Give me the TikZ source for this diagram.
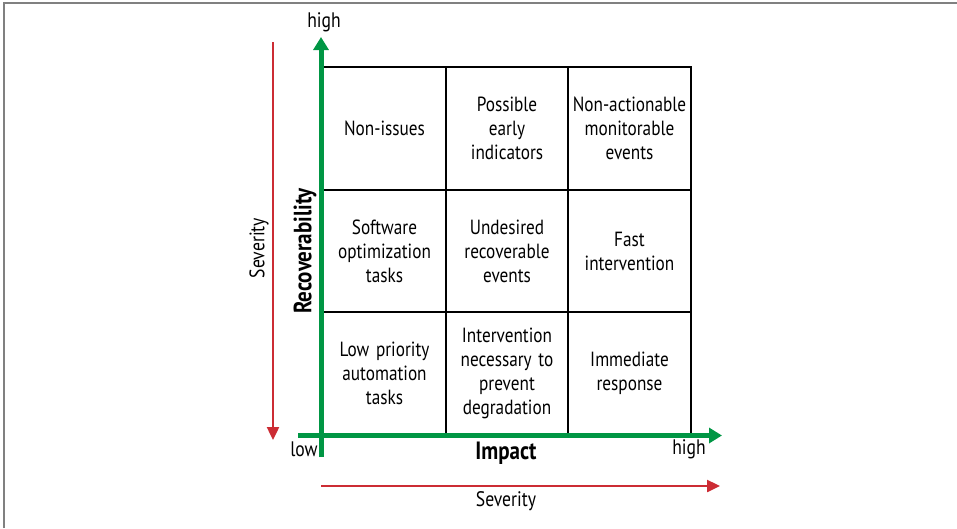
\documentclass[tikz,border=0pt]{standalone}
\usepackage{fontspec}
\setmainfont[FakeStretch=0.84]{PT Sans}
\usepackage{xcolor}
\usepackage{tikz}
\usetikzlibrary{shapes, arrows.meta, positioning}
\definecolor{axisgreen}{RGB}{0,150,68}
\definecolor{sevred}{RGB}{204,44,52}
\tikzstyle{cell} = [rectangle, minimum width=122.5pt, minimum height=122.5pt, inner sep=2pt, text width=116pt, align=center, draw=black, line width=1.8pt, font=\fontsize{20.5}{24}\selectfont]
\tikzstyle{label} = [inner sep=0pt, font=\fontsize{21}{22}\selectfont]
\tikzstyle{axis} = [line width=5pt, draw=axisgreen, -{Triangle[width=15pt,length=13pt]}]
\tikzstyle{severity} = [line width=2.4pt, draw=sevred, -{Triangle[width=12pt,length=13pt]}]

\begin{document}
\begin{tikzpicture}[x=1pt, y=-1pt, node distance = 122.5pt]
        \useasboundingbox (0,0) rectangle (957,528);
        % frame of the page (only top and left edges show)
        \draw [gray, line width=1.2pt] (4,528) -- (4,3) -- (957,3);
        % the 3x3 grid
        \node (hi-lo) [cell] at (384.5,128.5) {Non-issues};
        \node (hi-mid) [cell, right of=hi-lo] {Possible\\early\\indicators};
        \node (hi-hi) [cell, right of=hi-mid] {Non-actionable\\monitorable\\events};
        \node (mid-lo) [cell, below of=hi-lo] {Software\\optimization\\tasks};
        \node (mid-mid) [cell, right of=mid-lo] {Undesired\\recoverable\\events};
        \node (mid-hi) [cell, right of=mid-mid] {Fast\\intervention};
        \node (lo-lo) [cell, below of=mid-lo] {Low priority\\automation\\tasks};
        \node (lo-mid) [cell, right of=lo-lo] {Intervention\\necessary to\\prevent\\degradation};
        \node (lo-hi) [cell, right of=lo-mid] {Immediate\\response};
        % axis ends
        \coordinate (yaxis0) at (321,457);
        \coordinate (yaxis1) at (321,37);
        \coordinate (xaxis0) at (298,435.5);
        \coordinate (xaxis1) at (722,435.5);
        \coordinate (sevL0) at (273,42);
        \coordinate (sevL1) at (273,440);
        \coordinate (sevB0) at (321,486);
        \coordinate (sevB1) at (720,486);
        % Axes
        \draw [axis] (yaxis0) -- (yaxis1);
        \draw [axis] (xaxis0) -- (xaxis1);
        \node (yhigh) [label] at (324,22) {high};
        \node (xlow) [label] at (304,449) {low};
        \node (xhigh) [label] at (689,449) {high};
        \node (impact) [label, font=\fontsize{25}{26}\selectfont\bfseries] at (506,453) {Impact};
        \node (recov) [label, rotate=90, font=\fontsize{25}{26}\selectfont\bfseries] at (305,251) {Recoverability};
        % Severity arrows
        \draw [severity] (sevL0) -- (sevL1);
        \draw [severity] (sevB0) -- (sevB1);
        \node (sevleft) [label, rotate=90] at (259,248) {Severity};
        \node (sevbottom) [label] at (506,501) {Severity};
    \end{tikzpicture}
\end{document}
